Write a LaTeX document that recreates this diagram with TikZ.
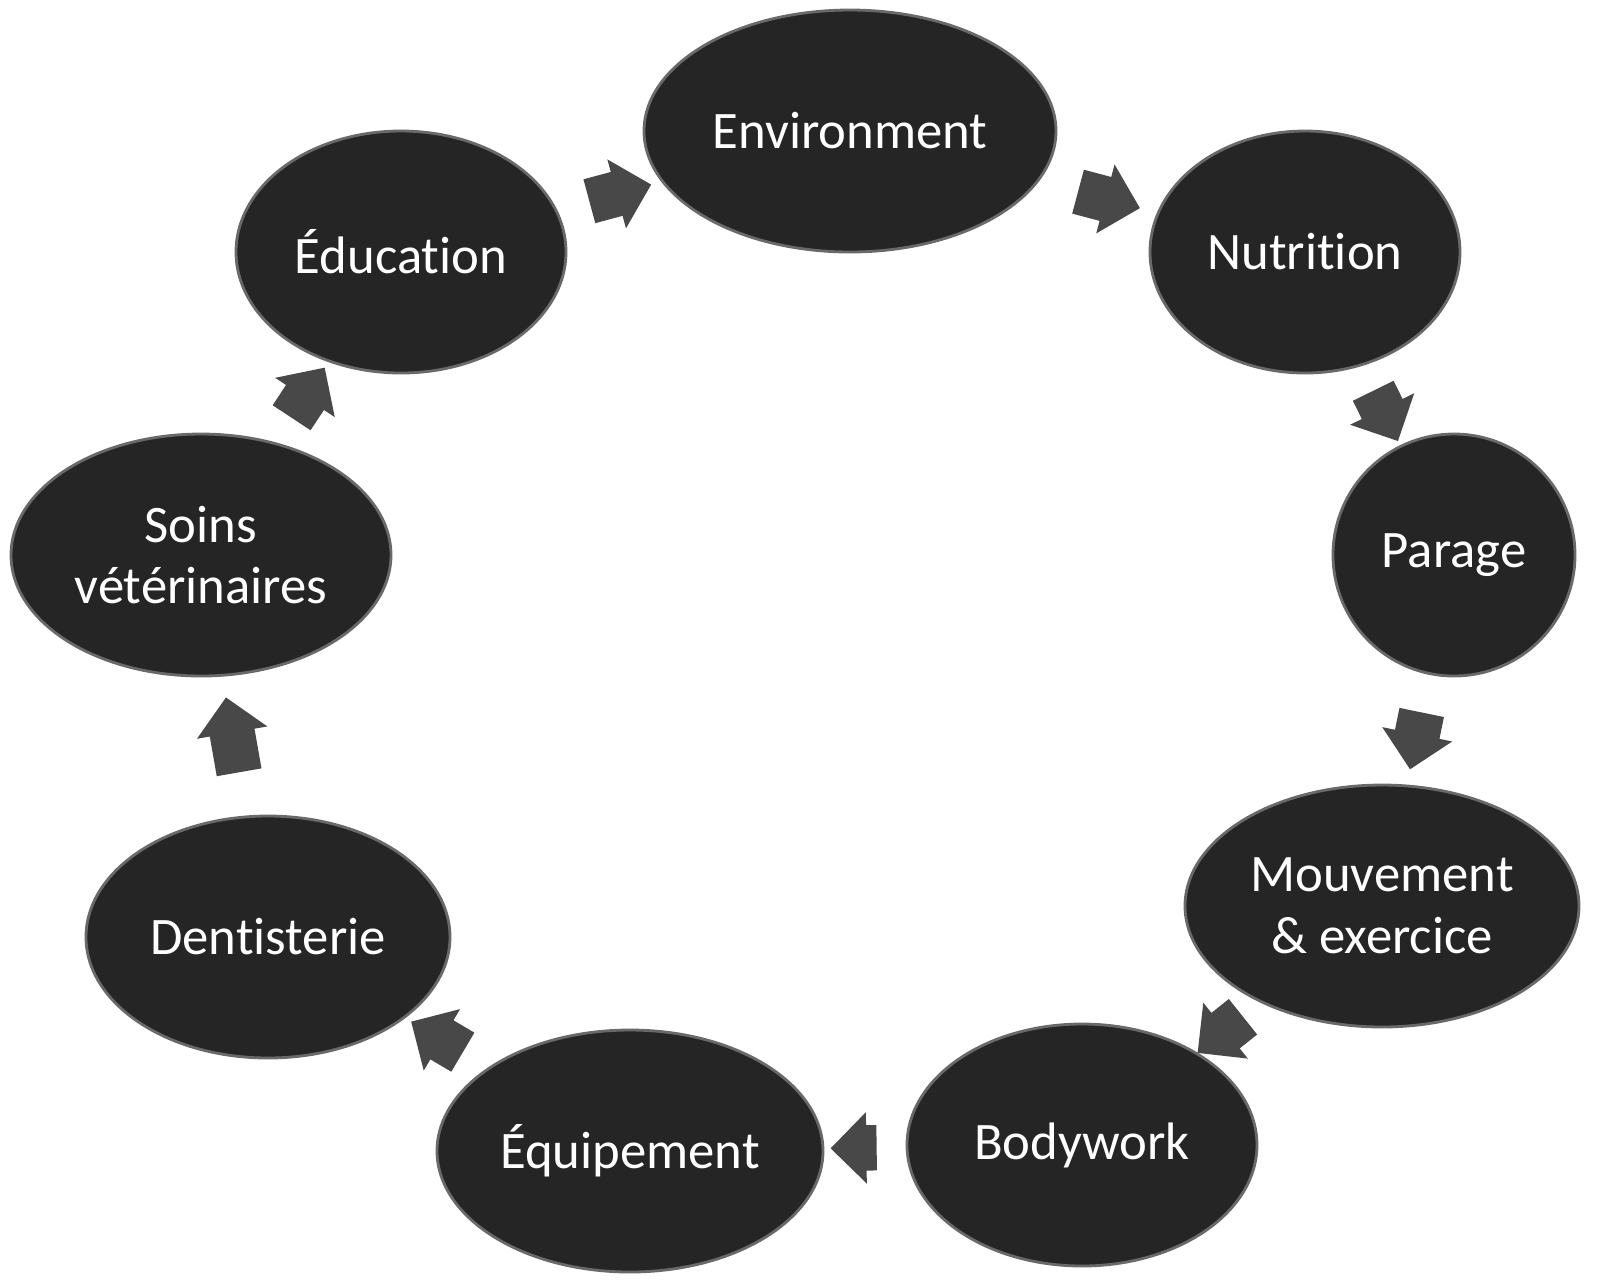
\documentclass[tikz,border=0pt]{standalone}
\usepackage{fontspec}
\setmainfont{Carlito}[Ligatures=NoCommon]
\usetikzlibrary{shapes.geometric, shapes.arrows}

\definecolor{disc}{RGB}{37,37,37}
\definecolor{rim}{RGB}{105,105,105}
\definecolor{flowgray}{RGB}{72,72,72}

\tikzset{
  stage/.style={ellipse, fill=disc, draw=rim, line width=0.8pt, text=white,
    inner sep=0pt, minimum height=24.2mm, align=center,
    font=\fontsize{15}{17.5}\selectfont},
  flow/.style={single arrow, fill=flowgray, draw=none, sloped, allow upside down,
    inner xsep=0pt, inner ysep=2.2mm, single arrow head extend=1.3mm,
    minimum height=#1},
  flow/.default=6mm
}

\begin{document}
\begin{tikzpicture}[x=0.1mm, y=-0.1mm]
	\useasboundingbox (0,0) rectangle (1600,1285);

	\node[stage, minimum width=41.2mm] (env) at (850,131) {Environment};
	\node[stage, minimum width=31mm]   (nut) at (1305,252) {Nutrition};
	\node[stage, minimum width=24.2mm] (par) at (1454,555) {Parage};
	\node[stage, minimum width=39.4mm] (mou) at (1382,906) {Mouvement\\\& exercice};
	\node[stage, minimum width=35mm]   (bod) at (1082,1145) {Bodywork};
	\node[stage, minimum width=38.6mm] (equ) at (630,1151) {Équipement};
	\node[stage, minimum width=36.4mm] (den) at (268,937) {Dentisterie};
	\node[stage, minimum width=38mm]   (soi) at (201,555) {Soins\\vétérinaires};
	\node[stage, minimum width=33mm]   (edu) at (401,252) {Éducation};

	\foreach \a/\b/\len in {edu/env/6.4mm, env/nut/6.4mm, nut/par/5.6mm,
	    par/mou/5.8mm, mou/bod/5.8mm, bod/equ/4.6mm, equ/den/6mm,
	    den/soi/7.6mm, soi/edu/6mm}{
	   \path (\a) -- node[flow=\len] (\a-\b) {} (\b);
	}
\end{tikzpicture}
\end{document}
